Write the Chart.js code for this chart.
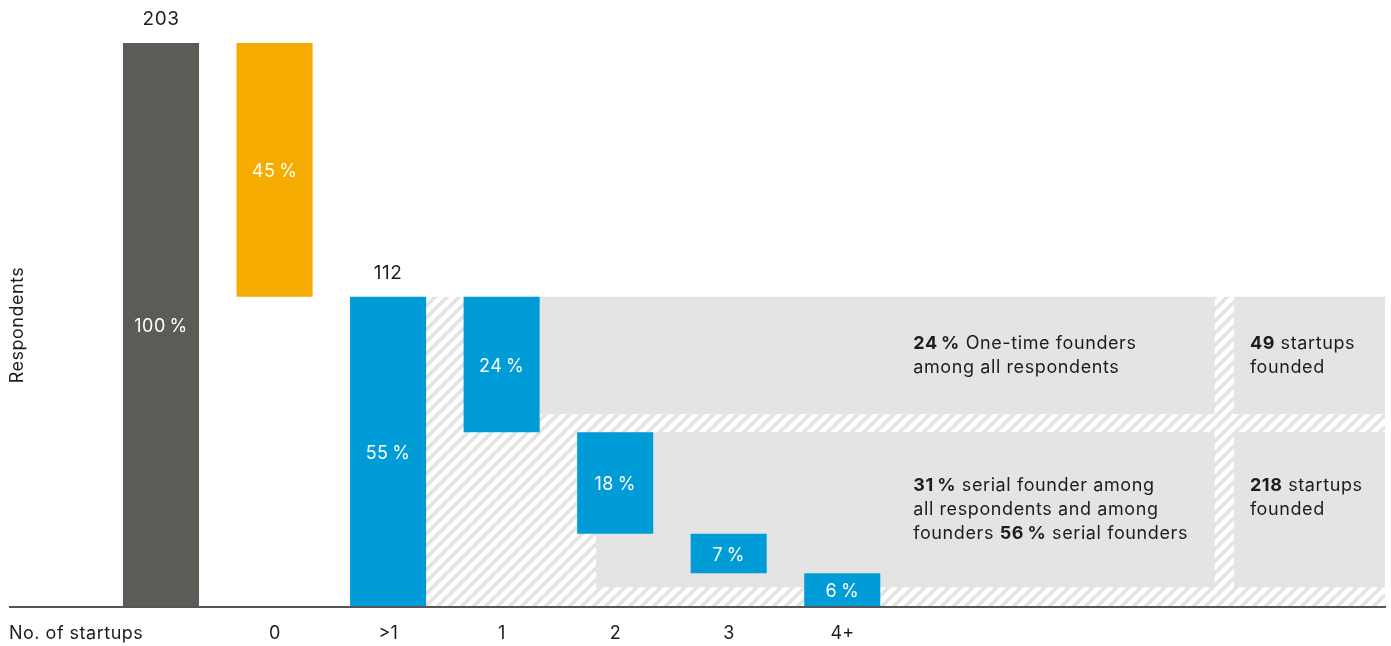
<!DOCTYPE html>
<html lang="en">
<head>
<meta charset="utf-8">
<title>Founders and startups</title>
<script src="https://cdn.jsdelivr.net/npm/chart.js@4.4.1/dist/chart.umd.min.js"></script>
<style>
  html, body { margin: 0; padding: 0; background: #fff; }
  #wrap { position: relative; width: 1391px; height: 646px; }
</style>
</head>
<body>
<div id="wrap"><canvas id="founders"></canvas></div>
<script>
/* global Chart */
(function () {
  'use strict';

  // x categories; the first column is all respondents and carries no label
  const CATEGORIES = ['', '0', '>1', '1', '2', '3', '4+'];
  // share of respondents per column, percent
  const SHARES = [100, 45, 55, 24, 18, 7, 6];
  // 'total' columns stand on the baseline, 'step' columns hang from the running level
  const KINDS = ['total', 'step', 'total', 'step', 'step', 'step', 'step'];
  // respondent counts printed above the total columns
  const COUNTS = [203, null, 112, null, null, null, null];

  // panel notes, one entry per line, each line a list of [text, bold]
  const ONE_TIME_NOTE = [
    [['24\u2009%', true], [' One-time founders', false]],
    [['among all respondents', false]]
  ];
  const SERIAL_NOTE = [
    [['31\u2009%', true], [' serial founder among', false]],
    [['all respondents and among', false]],
    [['founders ', false], ['56\u2009%', true], [' serial founders', false]]
  ];
  const ONE_TIME_STARTUPS = [[['49', true], [' startups', false]], [['founded', false]]];
  const SERIAL_STARTUPS = [[['218', true], [' startups', false]], [['founded', false]]];

  const FONT = 'Inter, "Open Sans", sans-serif';
  const INK = '#1d1d1b';
  const PANEL = '#e4e4e4';
  const TICK_PAD = 16;
  const TICK_SIZE = 18;

  function colorFor(i) {
    if (i === 0) return '#5d5b56';
    if (i === 1) return '#f6ab00';
    return '#009cd8';
  }

  // floating [from, to] ranges for the waterfall
  function buildRanges() {
    let level = 0;
    return SHARES.map(function (v, i) {
      if (KINDS[i] === 'total') {
        level = v;
        return [0, v];
      }
      const r = [level - v, level];
      level -= v;
      return r;
    });
  }

  const ranges = buildRanges();

  function hatchPattern(ctx) {
    const tile = document.createElement('canvas');
    tile.width = 12;
    tile.height = 12;
    const t = tile.getContext('2d');
    t.fillStyle = '#fff';
    t.fillRect(0, 0, 12, 12);
    t.strokeStyle = '#e2e2e2';
    t.lineWidth = 3.4;
    t.beginPath();
    t.moveTo(0, 12); t.lineTo(12, 0);
    t.moveTo(-4, 4); t.lineTo(4, -4);
    t.moveTo(8, 16); t.lineTo(16, 8);
    t.stroke();
    return ctx.createPattern(tile, 'repeat');
  }

  function barEdges(chart, i) {
    const bar = chart.getDatasetMeta(0).data[i];
    return { left: bar.x - bar.width / 2, right: bar.x + bar.width / 2 };
  }

  function drawNote(ctx, lines, x, yFirst, lineH) {
    ctx.textBaseline = 'middle';
    ctx.textAlign = 'left';
    ctx.fillStyle = INK;
    ctx.letterSpacing = '0.6px';
    lines.forEach(function (line, n) {
      let cx = x;
      line.forEach(function (seg) {
        ctx.font = (seg[1] ? '700 ' : '400 ') + '18px ' + FONT;
        ctx.fillText(seg[0], cx, yFirst + n * lineH);
        cx += ctx.measureText(seg[0]).width;
      });
    });
    ctx.letterSpacing = '0px';
  }

  // grey panels and the hatched block behind the founder columns
  const panels = {
    id: 'panels',
    beforeDatasetsDraw: function (chart) {
      const ctx = chart.ctx;
      const xs = chart.scales.x;
      const ys = chart.scales.y;
      const area = chart.chartArea;
      const split = xs.getPixelForValue(9.28);
      const rightStart = xs.getPixelForValue(9.45);

      ctx.save();
      const hatchLeft = barEdges(chart, 2).right;
      const hatchTop = ys.getPixelForValue(ranges[2][1]);
      ctx.fillStyle = hatchPattern(ctx);
      ctx.fillRect(hatchLeft, hatchTop, area.right - hatchLeft, ys.getPixelForValue(0) - hatchTop);

      ctx.fillStyle = PANEL;
      const upTop = ys.getPixelForValue(ranges[3][1]);
      const upBottom = ys.getPixelForValue(34.2);
      const upLeft = barEdges(chart, 3).right;
      ctx.fillRect(upLeft, upTop, split - upLeft, upBottom - upTop);
      ctx.fillRect(rightStart, upTop, area.right - rightStart, upBottom - upTop);

      const lowTop = ys.getPixelForValue(ranges[3][0]);
      const lowBottom = ys.getPixelForValue(3.5);
      const lowLeft = xs.getPixelForValue(4 - 0.17);
      ctx.fillRect(lowLeft, lowTop, split - lowLeft, lowBottom - lowTop);
      ctx.fillRect(rightStart, lowTop, area.right - rightStart, lowBottom - lowTop);

      const lineH = 24;
      const noteX = xs.getPixelForValue(6.625);
      const sideX = xs.getPixelForValue(9.59);
      const upFirst = (upTop + upBottom) / 2 - (ONE_TIME_NOTE.length - 1) * lineH / 2;
      const lowFirst = (lowTop + lowBottom) / 2 - (SERIAL_NOTE.length - 1) * lineH / 2;
      drawNote(ctx, ONE_TIME_NOTE, noteX, upFirst, lineH);
      drawNote(ctx, ONE_TIME_STARTUPS, sideX, upFirst, lineH);
      drawNote(ctx, SERIAL_NOTE, noteX, lowFirst, lineH);
      drawNote(ctx, SERIAL_STARTUPS, sideX, lowFirst, lineH);
      ctx.restore();
    }
  };

  // percentages inside the columns, counts above the totals, axis captions
  const labels = {
    id: 'labels',
    afterDatasetsDraw: function (chart) {
      const ctx = chart.ctx;
      const meta = chart.getDatasetMeta(0);
      ctx.save();
      ctx.textAlign = 'center';
      ctx.textBaseline = 'middle';
      ctx.letterSpacing = '0.5px';
      meta.data.forEach(function (bar, i) {
        ctx.font = '400 18px ' + FONT;
        ctx.fillStyle = '#fff';
        ctx.fillText(SHARES[i] + '\u2009%', bar.x, (bar.y + bar.base) / 2 + 2);
        if (COUNTS[i] != null) {
          ctx.font = '400 19px ' + FONT;
          ctx.fillStyle = INK;
          ctx.fillText(String(COUNTS[i]), bar.x, Math.min(bar.y, bar.base) - 24);
        }
      });
      ctx.restore();
    },
    afterDraw: function (chart) {
      const ctx = chart.ctx;
      const area = chart.chartArea;
      const xs = chart.scales.x;
      ctx.save();
      ctx.fillStyle = INK;
      ctx.font = '400 ' + TICK_SIZE + 'px ' + FONT;
      ctx.letterSpacing = '0.5px';
      ctx.textAlign = 'left';
      ctx.textBaseline = 'middle';
      ctx.fillText('No. of startups', area.left - 1, xs.top + TICK_PAD + TICK_SIZE * 0.6);
      ctx.translate(area.left + 8, (area.top + area.bottom) / 2);
      ctx.rotate(-Math.PI / 2);
      ctx.textAlign = 'center';
      ctx.fillText('Respondents', 0, 0);
      ctx.restore();
    }
  };

  new Chart(document.getElementById('founders'), {
    type: 'bar',
    data: {
      datasets: [{
        data: ranges.map(function (r, i) { return { x: i, y: r }; }),
        backgroundColor: SHARES.map(function (_, i) { return colorFor(i); }),
        borderWidth: 0,
        borderSkipped: false,
        barPercentage: 0.67,
        categoryPercentage: 1
      }]
    },
    options: {
      responsive: true,
      maintainAspectRatio: false,
      animation: false,
      layout: { padding: { left: 10, right: 6, top: 43, bottom: 2 } },
      plugins: { legend: { display: false }, tooltip: { enabled: false } },
      scales: {
        x: {
          type: 'linear',
          min: -1.33,
          max: 10.78,
          offset: false,
          grid: { display: false, drawTicks: false },
          border: { display: true, color: '#555', width: 2, z: 1 },
          afterBuildTicks: function (scale) {
            scale.ticks = CATEGORIES.map(function (_, i) { return { value: i }; });
          },
          afterFit: function (scale) {
            scale.height = 37;
          },
          ticks: {
            padding: TICK_PAD,
            color: INK,
            font: { family: FONT, size: TICK_SIZE },
            callback: function (value) { return CATEGORIES[value]; }
          }
        },
        y: {
          display: false,
          min: 0,
          max: 100
        }
      }
    },
    plugins: [panels, labels]
  });
})();
</script>
</body>
</html>
